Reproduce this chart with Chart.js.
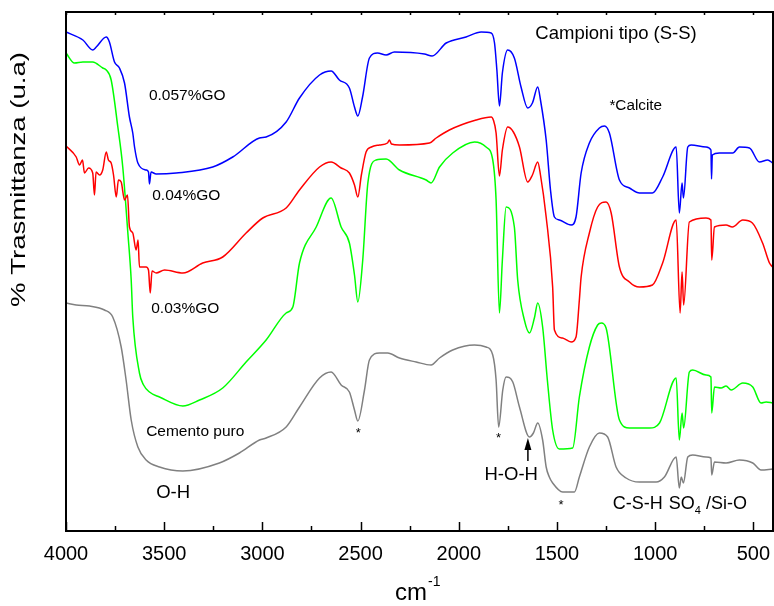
<!DOCTYPE html>
<html>
<head>
<meta charset="utf-8">
<script src="https://cdn.jsdelivr.net/npm/chart.js@4.4.1/dist/chart.umd.min.js"></script>
<style>
html,body{margin:0;padding:0;background:#ffffff;}
canvas{display:block;}
</style>
</head>
<body>
<canvas id="c" width="774" height="606" style="width:774px;height:606px"></canvas>
<script>
// ---------- data (wavenumber cm-1, transmittance in arbitrary units) ----------
const seriesLabels = ['0.057%GO', '0.04%GO', '0.03%GO', 'Cemento puro'];

const go057X = [4000,3914,3864,3846,3795,3779,3753,3728,3702,3677,3660,3651,3634,3592,3580,3575,3567,3541,3439,3253,3151,3015,2981,2879,2811,2709,2650,2608,2557,2531,2514,2490,2455,2414,2370,2328,2175,2136,2064,1963,1886,1835,1818,1806,1793,1778,1751,1717,1683,1649,1625,1598,1584,1555,1533,1513,1488,1428,1403,1377,1335,1284,1258,1233,1182,1131,1080,1014,962,893,877,863,856,834,817,741,716,713,709,673,605,571,520,469,427,402];
const go057Y = [499,491,481,484,494,489,469,463,448,414,398,384,368,361,359,347,359,357,358,364,374,393,394,409,433,456,460,451,443,424,415,434,473,478,476,479,477,475,488,494,499,498,488,461,425,458,481,473,444,423,428,444,431,391,341,314,311,306,314,358,388,403,405,398,351,343,338,338,354,384,318,348,333,384,386,384,381,352,376,378,378,384,383,369,371,368];

const go04X = [4000,3948,3931,3916,3906,3885,3864,3855,3847,3829,3813,3795,3784,3770,3758,3744,3733,3719,3702,3687,3677,3660,3643,3633,3626,3592,3580,3571,3562,3541,3498,3405,3304,3202,3083,2998,2879,2811,2709,2650,2599,2557,2531,2514,2496,2472,2445,2404,2363,2353,2343,2302,2149,2115,2048,1912,1835,1824,1810,1793,1778,1751,1722,1691,1649,1625,1598,1584,1555,1522,1513,1472,1428,1403,1386,1377,1335,1293,1250,1224,1182,1131,1080,1014,962,893,873,863,855,826,741,716,712,698,639,607,554,505,453,418,402];
const go04Y = [385,374,366,371,358,363,358,336,359,356,361,379,371,368,356,334,351,349,331,336,304,298,281,291,264,264,261,238,260,258,261,258,268,274,298,313,323,341,364,369,363,358,346,334,356,379,384,386,388,391,387,386,388,393,401,411,414,411,398,355,381,404,399,384,349,356,369,356,314,244,201,193,189,194,231,254,298,324,329,318,264,249,244,246,268,311,218,259,226,309,313,311,271,304,306,304,311,308,288,268,264];

const go03X = [4000,3957,3914,3864,3813,3795,3770,3736,3711,3685,3668,3660,3626,3605,3575,3524,3405,3320,3202,3083,2981,2879,2845,2811,2726,2650,2599,2557,2531,2514,2489,2463,2421,2370,2302,2166,2141,2098,2031,1920,1861,1827,1810,1793,1778,1759,1717,1700,1666,1640,1615,1598,1573,1549,1522,1488,1420,1386,1335,1293,1274,1250,1182,1131,1029,978,893,877,863,855,826,809,741,716,712,698,664,639,613,554,503,461,435,402];
const go03Y = [478,468,469,469,463,461,451,404,364,298,251,214,158,146,139,134,125,131,143,169,191,218,224,268,304,333,304,288,256,229,271,348,371,372,361,351,348,364,378,389,384,371,331,218,271,324,304,251,211,198,213,228,204,151,101,82,83,134,184,206,208,203,111,103,103,108,153,91,118,103,159,161,156,154,118,144,143,145,141,148,144,128,129,128];

const cementoX = [4000,3948,3880,3804,3762,3719,3694,3668,3634,3592,3524,3405,3219,3117,3015,2981,2879,2811,2709,2650,2599,2557,2531,2514,2480,2455,2404,2362,2302,2217,2141,2098,2031,1920,1861,1827,1810,1797,1776,1759,1725,1691,1640,1620,1598,1573,1555,1539,1522,1471,1411,1386,1335,1284,1242,1199,1148,1080,995,953,893,877,867,856,834,809,741,716,712,698,639,571,503,461,402];
const cementoY = [228,226,225,221,214,184,151,111,84,71,64,60,68,78,91,93,104,124,153,159,146,139,121,110,141,171,178,178,173,169,166,173,181,186,184,176,151,104,141,154,149,124,94,98,108,91,64,54,48,39,39,54,84,98,94,64,53,49,49,54,74,43,54,48,74,76,74,73,56,69,68,71,68,61,62];

// tick values of the wavenumber axis (labels only on multiples of 500)
const xTickValues = [500,750,1000,1250,1500,1750,2000,2250,2500,2750,3000,3250,3500,3750,4000];

// annotation texts (anchored in data coordinates)
const annotations = [
  {text:'0.057%GO', x:3578, y:431, size:15.5},
  {text:'0.04%GO', x:3561, y:331, size:15.5},
  {text:'0.03%GO', x:3566, y:218, size:15.5},
  {text:'Cemento puro', x:3592, y:95, size:15.5},
  {text:'O-H', x:3541, y:33, size:18.5},
  {text:'H-O-H', x:1869, y:51, size:18.5},
  {text:'*Calcite', x:1233, y:421, size:15.3},
  {text:'Campioni tipo (S-S)', x:1610, y:492, size:18.5},
  {text:'C-S-H', x:1216, y:22, size:18}
];
const asterisks = [{x:2512, y:101}, {x:1797, y:96}, {x:1479, y:29}];

// ---------- chart ----------
const FONT = "'Liberation Sans', Arial, Helvetica, sans-serif";
const toPts = (xs, ys) => xs.map((v, i) => ({x: v, y: ys[i]}));

const colors = ['#0000ff', '#ff0000', '#00ff00', '#808080'];
const seriesData = [toPts(go057X, go057Y), toPts(go04X, go04Y), toPts(go03X, go03Y), toPts(cementoX, cementoY)];

const decor = {
  id: 'decor',
  afterDraw(chart) {
    const {ctx, chartArea: a, scales: {x, y}} = chart;
    ctx.save();
    ctx.strokeStyle = '#000';
    ctx.fillStyle = '#000';
    // frame
    ctx.lineWidth = 2;
    ctx.strokeRect(a.left, a.top, a.right - a.left, a.bottom - a.top);
    // inward ticks
    ctx.lineWidth = 1.5;
    x.ticks.forEach(t => {
      const v = t.value;
      const px = Math.round(x.getPixelForValue(v)) + 0.5;
      const major = v % 500 === 0;
      ctx.beginPath();
      ctx.moveTo(px, a.bottom);
      ctx.lineTo(px, a.bottom - (major ? 9 : 5));
      ctx.stroke();
      ctx.beginPath();
      ctx.moveTo(px, a.top);
      ctx.lineTo(px, a.top + 3);
      ctx.stroke();
    });
    // annotations
    ctx.textAlign = 'left';
    ctx.textBaseline = 'alphabetic';
    annotations.forEach(an => {
      ctx.font = an.size + 'px ' + FONT;
      ctx.fillText(an.text, x.getPixelForValue(an.x), y.getPixelForValue(an.y));
    });
    // SO4 /Si-O
    ctx.font = '18px ' + FONT;
    let sx = x.getPixelForValue(931), sy = y.getPixelForValue(22);
    ctx.fillText('SO', sx, sy);
    const w = ctx.measureText('SO').width;
    ctx.font = '11px ' + FONT;
    ctx.fillText('4', sx + w, sy + 5);
    ctx.font = '18px ' + FONT;
    ctx.fillText('/Si-O', x.getPixelForValue(741), sy);
    // asterisks
    ctx.font = '13px ' + FONT;
    ctx.textAlign = 'center';
    asterisks.forEach(s => {
      ctx.fillText('*', x.getPixelForValue(s.x), y.getPixelForValue(s.y) + 7);
    });
    // arrow (H-O-H)
    const ax = x.getPixelForValue(1648);
    const yTip = y.getPixelForValue(93), yBase = y.getPixelForValue(70);
    ctx.lineWidth = 1.5;
    ctx.beginPath();
    ctx.moveTo(ax, yBase);
    ctx.lineTo(ax, yTip + 10);
    ctx.stroke();
    ctx.beginPath();
    ctx.moveTo(ax, yTip);
    ctx.lineTo(ax - 3.5, yTip + 12);
    ctx.lineTo(ax + 3.5, yTip + 12);
    ctx.closePath();
    ctx.fill();
    // x title cm^-1
    ctx.textAlign = 'left';
    ctx.font = '24px ' + FONT;
    ctx.fillText('cm', 395, 600);
    const wc = ctx.measureText('cm').width;
    ctx.font = '14px ' + FONT;
    ctx.fillText('-1', 395 + wc + 1, 586);
    // y title
    ctx.save();
    ctx.translate(25, 179.5);
    ctx.rotate(-Math.PI / 2);
    ctx.font = '21px ' + FONT;
    const yt = '% Trasmittanza (u.a)';
    const wy = ctx.measureText(yt).width;
    ctx.scale(255 / wy, 1);
    ctx.textAlign = 'center';
    ctx.fillText(yt, 0, 0);
    ctx.restore();
    ctx.restore();
  }
};

new Chart(document.getElementById('c'), {
  type: 'line',
  data: {
    datasets: seriesData.map((d, i) => ({
      label: seriesLabels[i],
      data: d,
      borderColor: colors[i],
      backgroundColor: colors[i],
      borderWidth: 1.5,
      pointRadius: 0,
      fill: false,
      cubicInterpolationMode: 'monotone'
    }))
  },
  options: {
    responsive: false,
    animation: false,
    devicePixelRatio: 1,
    layout: {padding: {left: 66, top: 12, right: 1, bottom: 0}},
    plugins: {legend: {display: false}, tooltip: {enabled: false}},
    scales: {
      x: {
        type: 'linear',
        reverse: true,
        min: 400,
        max: 4000,
        position: 'bottom',
        afterBuildTicks(scale) { scale.ticks = xTickValues.map(v => ({value: v})); },
        afterFit(scale) { scale.height = 75; },
        grid: {display: false, drawTicks: false},
        border: {display: false},
        ticks: {
          autoSkip: false,
          maxRotation: 0,
          minRotation: 0,
          padding: 11,
          color: '#000',
          font: {family: FONT, size: 20},
          callback: v => (v % 500 === 0 ? String(v) : '')
        }
      },
      y: {
        type: 'linear',
        display: false,
        min: 0,
        max: 519
      }
    }
  },
  plugins: [decor]
});
</script>
</body>
</html>
